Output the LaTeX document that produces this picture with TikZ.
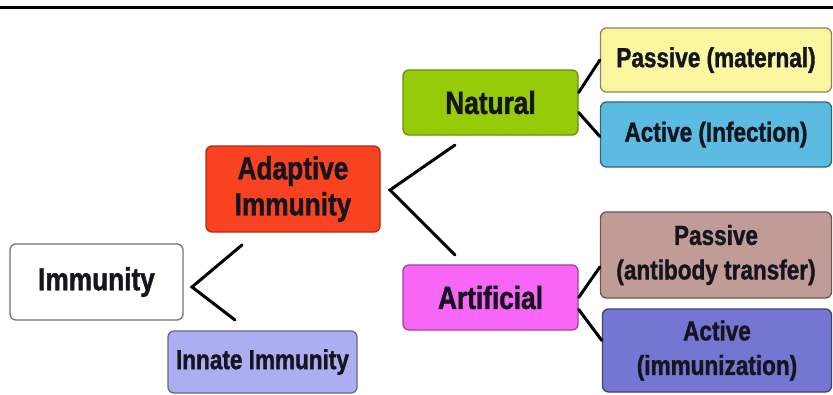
\documentclass[tikz,border=0pt]{standalone}
\usepackage{fontspec}
\newfontfamily\lab{Liberation Sans}[FakeStretch=0.82, BoldFeatures={FakeBold=1.3}]
\definecolor{cImm}{HTML}{FFFFFF}
\definecolor{cInn}{HTML}{ADADF2}
\definecolor{cAda}{HTML}{F9421F}
\definecolor{cNat}{HTML}{96CB0A}
\definecolor{cArt}{HTML}{F766F5}
\definecolor{cPM}{HTML}{FBF6A0}
\definecolor{cAI}{HTML}{5BBBE0}
\definecolor{cPA}{HTML}{C19B95}
\definecolor{cAIm}{HTML}{7575D2}
\definecolor{txt}{HTML}{151520}
\begin{document}
\begin{tikzpicture}[x=1pt,y=-1pt,
  box/.style={draw, rounded corners=6pt, line width=1.3pt, inner sep=0pt, align=center, text=txt},
  big/.style={font=\lab\bfseries\fontsize{32}{36}\selectfont},
  small/.style={font=\lab\bfseries\fontsize{27.5}{34.5}\selectfont},
  conn/.style={line width=3pt, line cap=round, line join=miter, black}]
\useasboundingbox[fill=white] (0,0) rectangle (833,394);
\draw[line width=2.6pt] (0,7.5) -- (833,7.5);

\node[box, big, fill=cImm, draw=black!55, minimum width=173pt, minimum height=76pt] (imm) at (96.5,282) {Immunity};
\node[box, small, fill=cInn, draw=cInn!60!black, minimum width=189pt, minimum height=62pt] (inn) at (262.5,362) {Innate Immunity};
\node[box, big, fill=cAda, draw=cAda!70!black, minimum width=174pt, minimum height=86pt] (ada) at (293,189) {Adaptive\\Immunity};
\node[box, big, fill=cNat, draw=cNat!70!black, minimum width=175pt, minimum height=65pt] (nat) at (490.5,102.5) {Natural};
\node[box, big, fill=cArt, draw=cArt!65!black, minimum width=175pt, minimum height=65pt] (art) at (490.5,297.5) {Artificial};
\node[box, small, fill=cPM, draw=cPM!55!black, minimum width=231pt, minimum height=64pt] (pm) at (716,60) {Passive (maternal)};
\node[box, small, fill=cAI, draw=cAI!55!black, minimum width=231pt, minimum height=65pt] (ai) at (716,134.5) {Active (Infection)};
\node[box, small, fill=cPA, draw=cPA!55!black, minimum width=231pt, minimum height=86pt] (pa) at (716,255) {Passive\\(antibody transfer)};
\node[box, small, fill=cAIm, draw=cAIm!55!black, minimum width=229pt, minimum height=83pt] (aim) at (717,350.5) {Active\\(immunization)};

% connectors
\coordinate (i1) at (242,245);
\coordinate (iv) at (192,287);
\coordinate (i2) at (235,320);
\draw[conn] (i1) -- (iv) -- (i2);
\coordinate (a1) at (455,145);
\coordinate (av) at (390,190);
\coordinate (a2) at (455,255);
\draw[conn] (a1) -- (av) -- (a2);
\draw[conn] ([yshift=10pt]nat.east) -- (pm.west);
\draw[conn] ([yshift=-10pt]nat.east) -- ([yshift=-2pt]ai.west);
\draw[conn] ([yshift=0pt]art.east) -- ([yshift=-12pt]pa.west);
\draw[conn] ([yshift=-12pt]art.east) -- ([yshift=10pt]aim.west);
\end{tikzpicture}
\end{document}
